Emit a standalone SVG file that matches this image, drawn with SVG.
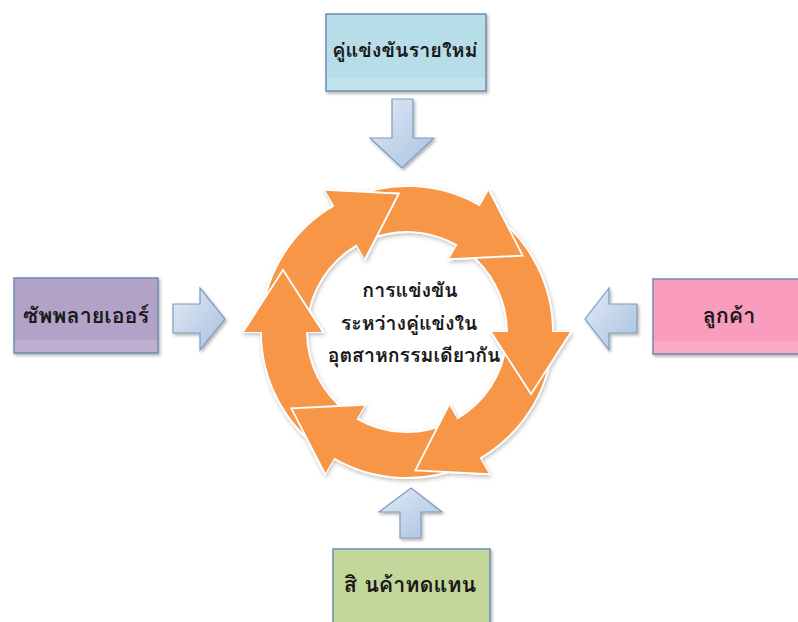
<svg xmlns="http://www.w3.org/2000/svg" width="798" height="622" viewBox="0 0 798 622">
  <style>
    .box { stroke: #6F8CB0; stroke-width: 1.5; filter: url(#shadow); }
    .gloss { fill: #ffffff; opacity: 0.15; }
    .label { font-family: Tahoma, Loma, Garuda, "Noto Sans Thai Looped", "Noto Sans Thai", "Noto Sans", "DejaVu Sans", sans-serif; font-weight: bold; fill: #1a1a1a; text-anchor: middle; }
    .boxlabel { font-size: 21.5px; }
    .toplabel { font-size: 19.8px; }
    .centerlabel { font-size: 19.5px; }
    .blk { fill: url(#blueGrad); stroke: #7E9BC0; stroke-width: 1.2; filter: url(#shadow); }
    .ring { fill: #F79646; stroke: #ffffff; stroke-width: 1.8; stroke-linejoin: miter; }
    .head { fill: #F79646; stroke: #ffffff; stroke-width: 1.8; }
  </style>
  <defs>
    <filter id="shadow" x="-20%" y="-20%" width="140%" height="140%">
      <feDropShadow dx="1.5" dy="2" stdDeviation="1.5" flood-color="#000000" flood-opacity="0.3"/>
    </filter>
    <filter id="ringShadow" x="-10%" y="-10%" width="120%" height="120%">
      <feDropShadow dx="1" dy="2" stdDeviation="2" flood-color="#000000" flood-opacity="0.25"/>
    </filter>
    <linearGradient id="blueGrad" x1="0" y1="0" x2="1" y2="1">
      <stop offset="0" stop-color="#E1EAF5"/>
      <stop offset="1" stop-color="#A9C1E0"/>
    </linearGradient>
  </defs>
  <rect x="0" y="0" width="798" height="622" fill="#ffffff"/>

  <g id="connectors">
    <path class="blk" d="M392 99 H413 V138 H434 L402 168 L370 138 H392 Z"/>
    <path class="blk" d="M173 304 H200 V288 L225 319 L200 350 V333 H173 Z"/>
    <path class="blk" d="M637 304 H609 V288 L585 319 L609 350 V333 H637 Z"/>
    <path class="blk" d="M400 538 V512 H379 L411 488 L442 512 H421 V538 Z"/>
  </g>

  <g id="node-new-entrants">
    <rect class="box" x="326" y="14" width="160" height="77" fill="#B7DEE8"/>
    <rect class="gloss" x="327" y="78" width="158" height="12"/>
    <text class="label toplabel" x="405" y="57">คู่แข่งขันรายใหม่</text>
  </g>

  <g id="node-suppliers">
    <rect class="box" x="14" y="278" width="144" height="75" fill="#B3A2C7"/>
    <rect class="gloss" x="15" y="340" width="142" height="12"/>
    <text class="label boxlabel" x="86" y="323">ซัพพลายเออร์</text>
  </g>

  <g id="node-customers">
    <rect class="box" x="653" y="279" width="150" height="75" fill="#FA9CBD"/>
    <rect class="gloss" x="654" y="341" width="148" height="12"/>
    <text class="label boxlabel" x="729" y="323">ลูกค้า</text>
  </g>

  <g id="node-substitutes">
    <rect class="box" x="333" y="549" width="157" height="80" fill="#C4D79B"/>
    <text class="label boxlabel" x="410" y="592">สิ นค้าทดแทน</text>
  </g>

  <g id="node-rivalry">
    <g filter="url(#ringShadow)">
      <path class="ring" d="M 347.62 198.63 A 146 146 0 0 1 480 205.56 L 489 189.97 L 522.69 255.61 L 449 259.25 L 457 245.4 A 100 100 0 0 0 366.33 240.65 Z"/>
      <path class="ring" d="M 492.82 213.89 A 146 146 0 0 1 553 332 L 571 332 L 531 394 L 491 332 L 507 332 A 100 100 0 0 0 465.78 251.1 Z"/>
      <path class="ring" d="M 552.2 347.26 A 146 146 0 0 1 480 458.44 L 489 474.03 L 415.31 470.39 L 449 404.75 L 457 418.6 A 100 100 0 0 0 506.45 342.45 Z"/>
      <path class="ring" d="M 466.38 465.37 A 146 146 0 0 1 334 458.44 L 325 474.03 L 291.31 408.39 L 365 404.75 L 357 418.6 A 100 100 0 0 0 447.67 423.35 Z"/>
      <path class="ring" d="M 321.18 450.11 A 146 146 0 0 1 261 332 L 243 332 L 283 270 L 323 332 L 307 332 A 100 100 0 0 0 348.22 412.9 Z"/>
      <path class="ring" d="M 261.8 316.74 A 146 146 0 0 1 334 205.56 L 325 189.97 L 398.69 193.61 L 365 259.25 L 357 245.4 A 100 100 0 0 0 307.55 321.55 Z"/>
      <path class="head" d="M 489 189.97 L 522.69 255.61 L 449 259.25"/>
      <path class="head" d="M 571 332 L 531 394 L 491 332"/>
      <path class="head" d="M 489 474.03 L 415.31 470.39 L 449 404.75"/>
      <path class="head" d="M 325 474.03 L 291.31 408.39 L 365 404.75"/>
      <path class="head" d="M 243 332 L 283 270 L 323 332"/>
      <path class="head" d="M 325 189.97 L 398.69 193.61 L 365 259.25"/>
    </g>
    <text class="label centerlabel" x="410" y="297">การแข่งขัน</text>
    <text class="label centerlabel" x="409" y="330">ระหว่างคู่แข่งใน</text>
    <text class="label centerlabel" x="414" y="362">อุตสาหกรรมเดียวกัน</text>
  </g>
</svg>
